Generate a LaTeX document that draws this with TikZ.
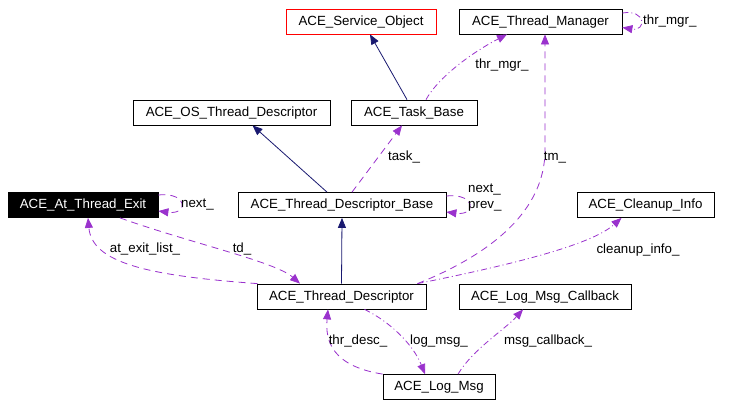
\documentclass[tikz,border=0pt]{standalone}
\usepackage{fontspec}
\setmainfont{Liberation Sans}
\usetikzlibrary{arrows.meta}
\definecolor{edgepurple}{HTML}{9A32CD}
\definecolor{edgenavy}{HTML}{191970}
\tikzset{
  cls/.style={draw=black, line width=0.8bp, minimum height=25bp, inner sep=0pt,
    font=\fontsize{13.3bp}{16bp}\selectfont, text height=9.5bp, text depth=2.5bp},
  lbl/.style={inner sep=0pt, font=\fontsize{13.3bp}{16bp}\selectfont, text height=9.5bp, text depth=2.5bp},
  inherit/.style={draw=edgenavy, line width=0.8bp, -{Triangle[length=10bp,width=8bp]}, edgenavy},
  usage/.style={draw=edgepurple, line width=0.8bp, -{Triangle[length=10bp,width=8bp]}, edgepurple, dash pattern=on 7bp off 5bp},
  usagedd/.style={draw=edgepurple, line width=0.8bp, -{Triangle[length=10bp,width=8bp]}, edgepurple, dash pattern=on 6bp off 3bp on 1bp off 3bp}
}
\begin{document}
\begin{tikzpicture}[x=1bp,y=-1bp]
\useasboundingbox[fill=white] (0,0) rectangle (736,407);
% nodes
\node[cls, draw=red, minimum width=150bp] (SO) at (361,21.5) {ACE\_Service\_Object};
\node[cls, minimum width=163bp] (TM) at (540.5,21.5) {ACE\_Thread\_Manager};
\node[cls, minimum width=126bp] (TB) at (414,112.5) {ACE\_Task\_Base};
\node[cls, minimum width=197bp] (OS) at (231.5,112.5) {ACE\_OS\_Thread\_Descriptor};
\node[cls, minimum width=208bp] (TDB) at (342,205) {ACE\_Thread\_Descriptor\_Base};
\node[cls, fill=black, text=white, minimum width=150bp] (ATE) at (83,205) {ACE\_At\_Thread\_Exit};
\node[cls, minimum width=137bp] (CI) at (645.5,205) {ACE\_Cleanup\_Info};
\node[cls, minimum width=169bp] (TD) at (341.5,296.5) {ACE\_Thread\_Descriptor};
\node[cls, minimum width=172bp] (LMC) at (545,296.5) {ACE\_Log\_Msg\_Callback};
\node[cls, minimum width=112bp] (LM) at (439,387) {ACE\_Log\_Msg};
% inheritance
\draw[inherit] ([xshift=-7bp]TB.north) -- ([xshift=9bp]SO.south);
\draw[inherit] ([xshift=-15bp]TDB.north) -- ([xshift=21bp]OS.south);
\draw[inherit] (TD.north) -- (TDB.south);
% usage
\draw[usagedd] ([xshift=12bp]TB.north) .. controls +(12,-22) and +(-35,18) .. ([xshift=-33.5bp]TM.south);
\node[lbl] (lthr1) at (502,65) {thr\_mgr\_};
\draw[usagedd] ([yshift=8.5bp]TM.east) .. controls +(24,-4) and +(24,4) .. ([yshift=-6bp]TM.east);
\node[lbl, anchor=west] (lthr2) at (643,21) {thr\_mgr\_};
\draw[usage] ([xshift=76bp]TD.north) .. controls +(75,-30) and +(0,60) .. (545,150) -- ([xshift=4.5bp]TM.south);
\node[lbl] (ltm) at (555,157) {tm\_};
\draw[usagedd] ([xshift=76bp]TD.north) .. controls +(110,-22) and +(-28,25) .. ([xshift=-24bp]CI.south);
\node[lbl] (lci) at (638,250) {cleanup\_info\_};
\draw[usage] ([xshift=10bp]TDB.north) -- ([xshift=-12bp]TB.south);
\node[lbl] (ltask) at (404,157) {task\_};
\draw[usage] ([yshift=9bp]TDB.east) .. controls +(30,-3) and +(30,4) .. ([yshift=-7bp]TDB.east);
\node[lbl, anchor=west, align=left] (ltdb) at (468,205) {next\_\\prev\_};
\draw[usage] ([yshift=10bp]ATE.east) .. controls +(30,-3) and +(30,4) .. ([yshift=-6bp]ATE.east);
\node[lbl, anchor=west] (late) at (181,204) {next\_};
\draw[usage] ([xshift=37bp]ATE.south) .. controls +(70,25) and +(-25,-22) .. ([xshift=-41.5bp]TD.north);
\node[lbl] (ltd) at (242,249) {td\_};
\draw[usage] ([xshift=-84bp]TD.north) .. controls +(-110,-8) and +(4,45) .. ([xshift=5bp]ATE.south);
\node[lbl] (lael) at (145,249) {at\_exit\_list\_};
\draw[usage] (LM.north west) .. controls +(-50,-8) and +(-3,32) .. ([xshift=-13.5bp]TD.south);
\node[lbl] (lthrd) at (358,341) {thr\_desc\_};
\draw[usagedd] ([xshift=23bp]TD.south) .. controls +(25,12) and +(-12,-30) .. ([xshift=-14bp]LM.north);
\node[lbl] (llm) at (439,341) {log\_msg\_};
\draw[usagedd] ([xshift=19bp]LM.north) .. controls +(15,-25) and +(-18,20) .. ([xshift=-22bp]LMC.south);
\node[lbl] (lmc) at (548,341) {msg\_callback\_};
\end{tikzpicture}
\end{document}
